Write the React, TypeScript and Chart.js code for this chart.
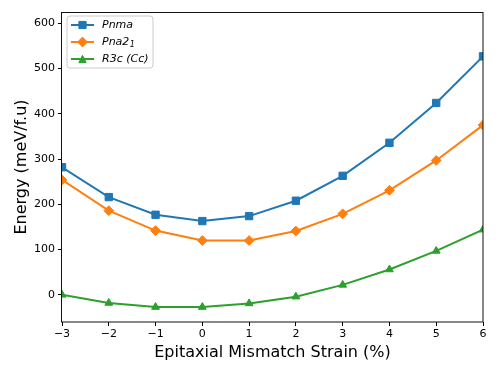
import React, { useEffect, useRef } from "react";
import { Chart, registerables } from "chart.js";

Chart.register(...registerables);

const strains = [-3, -2, -1, 0, 1, 2, 3, 4, 5, 6];
const pnma = [282, 216, 177, 163, 174, 208, 263, 336, 424, 527];
const pna21 = [254, 186, 142, 120, 120, 141, 179, 231, 297, 375];
const r3c = [0, -18, -27, -27, -19, -4, 22, 56, 97, 144];
const yTicks = [0, 100, 200, 300, 400, 500, 600];
const xTicks = [-3, -2, -1, 0, 1, 2, 3, 4, 5, 6];

const BLUE = "#1f77b4";
const ORANGE = "#ff7f0e";
const GREEN = "#2ca02c";
const FONT = "'DejaVu Sans', sans-serif";

const fmt = (v: number) => (v < 0 ? "\u2212" + Math.abs(v) : String(v));

function drawMarker(ctx: CanvasRenderingContext2D, kind: string, x: number, y: number, color: string) {
  ctx.save();
  ctx.fillStyle = color;
  ctx.strokeStyle = color;
  ctx.lineWidth = 1;
  ctx.beginPath();
  if (kind === "rect") {
    const s = 3.6;
    ctx.rect(x - s, y - s, 2 * s, 2 * s);
  } else if (kind === "rectRot") {
    const r = 4.9;
    ctx.moveTo(x - r, y);
    ctx.lineTo(x, y - r);
    ctx.lineTo(x + r, y);
    ctx.lineTo(x, y + r);
    ctx.closePath();
  } else {
    const r = 3.7;
    ctx.moveTo(x, y - r);
    ctx.lineTo(x + r, y + r);
    ctx.lineTo(x - r, y + r);
    ctx.closePath();
  }
  ctx.fill();
  ctx.stroke();
  ctx.restore();
}

const framePlugin = {
  id: "frame",
  afterDatasetsDraw(chart: any) {
    const { ctx, chartArea } = chart;
    ctx.save();
    ctx.strokeStyle = "#111";
    ctx.lineWidth = 1;
    ctx.strokeRect(
      Math.round(chartArea.left) - 0.5,
      Math.round(chartArea.top) + 0.5,
      Math.round(chartArea.right - chartArea.left) + 0.5,
      Math.round(chartArea.bottom - chartArea.top) - 0.5
    );
    ctx.restore();
  },
};

const legendItems = [
  { label: "Pnma", sub: "", color: BLUE, marker: "rect" },
  { label: "Pna2", sub: "1", color: ORANGE, marker: "rectRot" },
  { label: "R3c (Cc)", sub: "", color: GREEN, marker: "triangle" },
];

const legendPlugin = {
  id: "customLegend",
  afterDraw(chart: any) {
    const { ctx, chartArea } = chart;
    const bx = chartArea.left + 5;
    const by = chartArea.top + 4;
    const bw = 86;
    const bh = 52;
    ctx.save();
    ctx.beginPath();
    const r = 3;
    ctx.moveTo(bx + r, by);
    ctx.lineTo(bx + bw - r, by);
    ctx.quadraticCurveTo(bx + bw, by, bx + bw, by + r);
    ctx.lineTo(bx + bw, by + bh - r);
    ctx.quadraticCurveTo(bx + bw, by + bh, bx + bw - r, by + bh);
    ctx.lineTo(bx + r, by + bh);
    ctx.quadraticCurveTo(bx, by + bh, bx, by + bh - r);
    ctx.lineTo(bx, by + r);
    ctx.quadraticCurveTo(bx, by, bx + r, by);
    ctx.closePath();
    ctx.fillStyle = "rgba(255,255,255,0.8)";
    ctx.fill();
    ctx.strokeStyle = "#cccccc";
    ctx.lineWidth = 1;
    ctx.stroke();

    legendItems.forEach((it, i) => {
      const y = by + 9 + i * 17;
      ctx.strokeStyle = it.color;
      ctx.lineWidth = 2;
      ctx.beginPath();
      ctx.moveTo(bx + 4, y);
      ctx.lineTo(bx + 27, y);
      ctx.stroke();
      drawMarker(ctx, it.marker, bx + 15.5, y, it.color);
      ctx.fillStyle = "#000";
      ctx.textBaseline = "middle";
      ctx.textAlign = "left";
      ctx.font = "italic 11px " + FONT;
      ctx.fillText(it.label, bx + 35, y);
      if (it.sub) {
        const w = ctx.measureText(it.label).width;
        ctx.font = "italic 8px " + FONT;
        ctx.fillText(it.sub, bx + 35 + w + 0.5, y + 3);
      }
    });
    ctx.restore();
  },
};

const toPts = (arr: number[]) => strains.map((x, i) => ({ x, y: arr[i] }));

export default function App() {
  const ref = useRef<HTMLCanvasElement>(null);
  useEffect(() => {
    if (!ref.current) return;
    const common = {
      borderWidth: 2,
      pointBorderWidth: 1,
      clip: 0,
      tension: 0,
      fill: false,
    };
    const chart = new Chart(ref.current, {
      type: "line",
      data: {
        datasets: [
          {
            ...common,
            label: "Pnma",
            data: toPts(pnma),
            borderColor: BLUE,
            backgroundColor: BLUE,
            pointStyle: "rect",
            pointRadius: 5.2,
          },
          {
            ...common,
            label: "Pna21",
            data: toPts(pna21),
            borderColor: ORANGE,
            backgroundColor: ORANGE,
            pointStyle: "rectRot",
            pointRadius: 4.9,
          },
          {
            ...common,
            label: "R3c (Cc)",
            data: toPts(r3c),
            borderColor: GREEN,
            backgroundColor: GREEN,
            pointStyle: "triangle",
            pointRadius: 4.5,
          },
        ],
      } as any,
      options: {
        responsive: false,
        animation: false,
        events: [],
        layout: { padding: { left: 0, top: 12, right: 15, bottom: 0 } },
        plugins: { legend: { display: false }, tooltip: { enabled: false } },
        scales: {
          x: {
            type: "linear",
            min: -3,
            max: 6,
            afterBuildTicks: (s: any) => {
              s.ticks = xTicks.map((v) => ({ value: v }));
            },
            afterFit: (s: any) => {
              s.height = 52;
            },
            ticks: {
              callback: (v: any) => fmt(Number(v)),
              color: "#000",
              font: { family: FONT, size: 11 },
              padding: 2,
              maxRotation: 0,
            },
            grid: { drawOnChartArea: false, drawTicks: true, tickLength: 4, color: "#000", lineWidth: 1 },
            border: { display: false },
            title: {
              display: true,
              text: "Epitaxial Mismatch Strain (%)",
              color: "#000",
              font: { family: FONT, size: 16, weight: "normal" },
              padding: { top: 0, bottom: 12 },
            },
          },
          y: {
            type: "linear",
            min: -60,
            max: 625,
            afterBuildTicks: (s: any) => {
              s.ticks = yTicks.map((v) => ({ value: v }));
            },
            afterFit: (s: any) => {
              s.width = 62;
            },
            ticks: {
              callback: (v: any) => fmt(Number(v)),
              color: "#000",
              font: { family: FONT, size: 11 },
              padding: 3,
            },
            grid: { drawOnChartArea: false, drawTicks: true, tickLength: 4, color: "#000", lineWidth: 1 },
            border: { display: false },
            title: {
              display: true,
              text: "Energy (meV/f.u)",
              color: "#000",
              font: { family: FONT, size: 16, weight: "normal" },
              padding: { top: 12, bottom: 0 },
            },
          },
        },
      } as any,
      plugins: [framePlugin, legendPlugin],
    });
    return () => chart.destroy();
  }, []);
  return (
    <div style={{ position: "fixed", left: 0, top: 0, width: 498, height: 374, background: "#fff" }}>
      <canvas ref={ref} width={498} height={374} />
    </div>
  );
}
